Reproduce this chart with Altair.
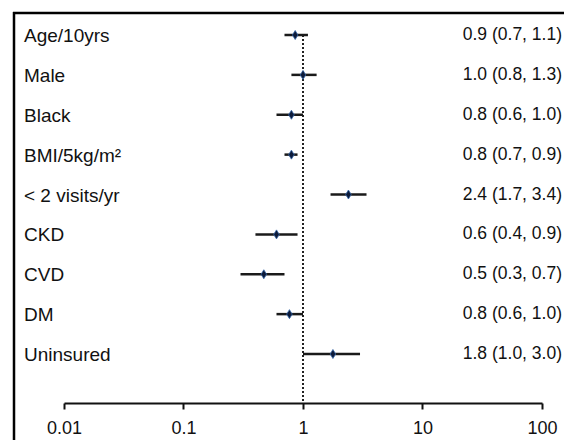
import altair as alt
import pandas as pd

labels = ["Age/10yrs", "Male", "Black", "BMI/5kg/m²", "< 2 visits/yr", "CKD", "CVD", "DM", "Uninsured"]
est = [0.86, 1.0, 0.8, 0.8, 2.4, 0.6, 0.47, 0.77, 1.78]
lo = [0.7, 0.8, 0.6, 0.7, 1.7, 0.4, 0.3, 0.6, 1.0]
hi = [1.1, 1.3, 1.0, 0.9, 3.4, 0.9, 0.7, 1.0, 3.0]
texts = ["0.9 (0.7, 1.1)", "1.0 (0.8, 1.3)", "0.8 (0.6, 1.0)", "0.8 (0.7, 0.9)", "2.4 (1.7, 3.4)",
         "0.6 (0.4, 0.9)", "0.5 (0.3, 0.7)", "0.8 (0.6, 1.0)", "1.8 (1.0, 3.0)"]
ticks = [0.01, 0.1, 1, 10, 100]

df = pd.DataFrame({"label": labels, "est": est, "lo": lo, "hi": hi, "txt": texts})
ref = pd.DataFrame({"x": [1], "label": [labels[0]]})

W, H = 551, 391
FONT = "Liberation Sans"

xs = alt.Scale(type="log", domain=[0.01, 100], range=[51, 529])
ys = alt.Scale(type="point", domain=labels, range=[23, 342], padding=0)

base = alt.Chart(df)

whisk = base.mark_rule(strokeWidth=2.5, color="#1a1a1a").encode(
    x=alt.X("lo:Q", scale=xs, axis=alt.Axis(values=ticks, format="~g", grid=False, title=None,
                                            domainColor="#111", domainWidth=2, tickColor="#111",
                                            tickWidth=2, tickSize=6, labelFontSize=18, labelFont=FONT,
                                            labelColor="#111", labelPadding=10, labelFlush=False)),
    x2="hi:Q",
    y=alt.Y("label:N", scale=ys, axis=None),
)

refline = alt.Chart(ref).mark_rule(strokeDash=[2, 2], strokeWidth=2, color="#222").encode(
    x=alt.X("x:Q", scale=xs),
    y=alt.Y("label:N", scale=ys, axis=None),
    y2=alt.value(H),
)

pts = base.mark_point(shape="M0,-1L0.62,0L0,1L-0.62,0Z", size=81, filled=True,
                      fill="#0d1b3a", stroke="#3366aa", strokeWidth=0.8, opacity=1).encode(
    x=alt.X("est:Q", scale=xs),
    y=alt.Y("label:N", scale=ys, axis=None),
)

lab = base.mark_text(align="left", baseline="middle", fontSize=19, font=FONT, color="#111", dy=1).encode(
    x=alt.value(11),
    y=alt.Y("label:N", scale=ys, axis=None),
    text="label:N",
)

rtxt = base.mark_text(align="right", baseline="middle", fontSize=17.5, font=FONT, color="#111").encode(
    x=alt.value(549),
    y=alt.Y("label:N", scale=ys, axis=None),
    text="txt:N",
)

top = alt.Chart(ref).mark_rule(strokeWidth=2.5, color="#000").encode(
    x=alt.value(0), x2=alt.value(W), y=alt.value(1))
left = alt.Chart(ref).mark_rule(strokeWidth=2.5, color="#000").encode(
    x=alt.value(1), y=alt.value(0), y2=alt.value(440))

chart = alt.layer(refline, whisk, pts, lab, rtxt, top, left).properties(
    width=W, height=H,
    autosize=alt.AutoSizeParams(type="none"),
    padding={"left": 5, "top": 4, "right": 0, "bottom": 37},
).configure_view(stroke=None)

chart.save("out.html", embed_options={"renderer": "svg", "actions": False})
